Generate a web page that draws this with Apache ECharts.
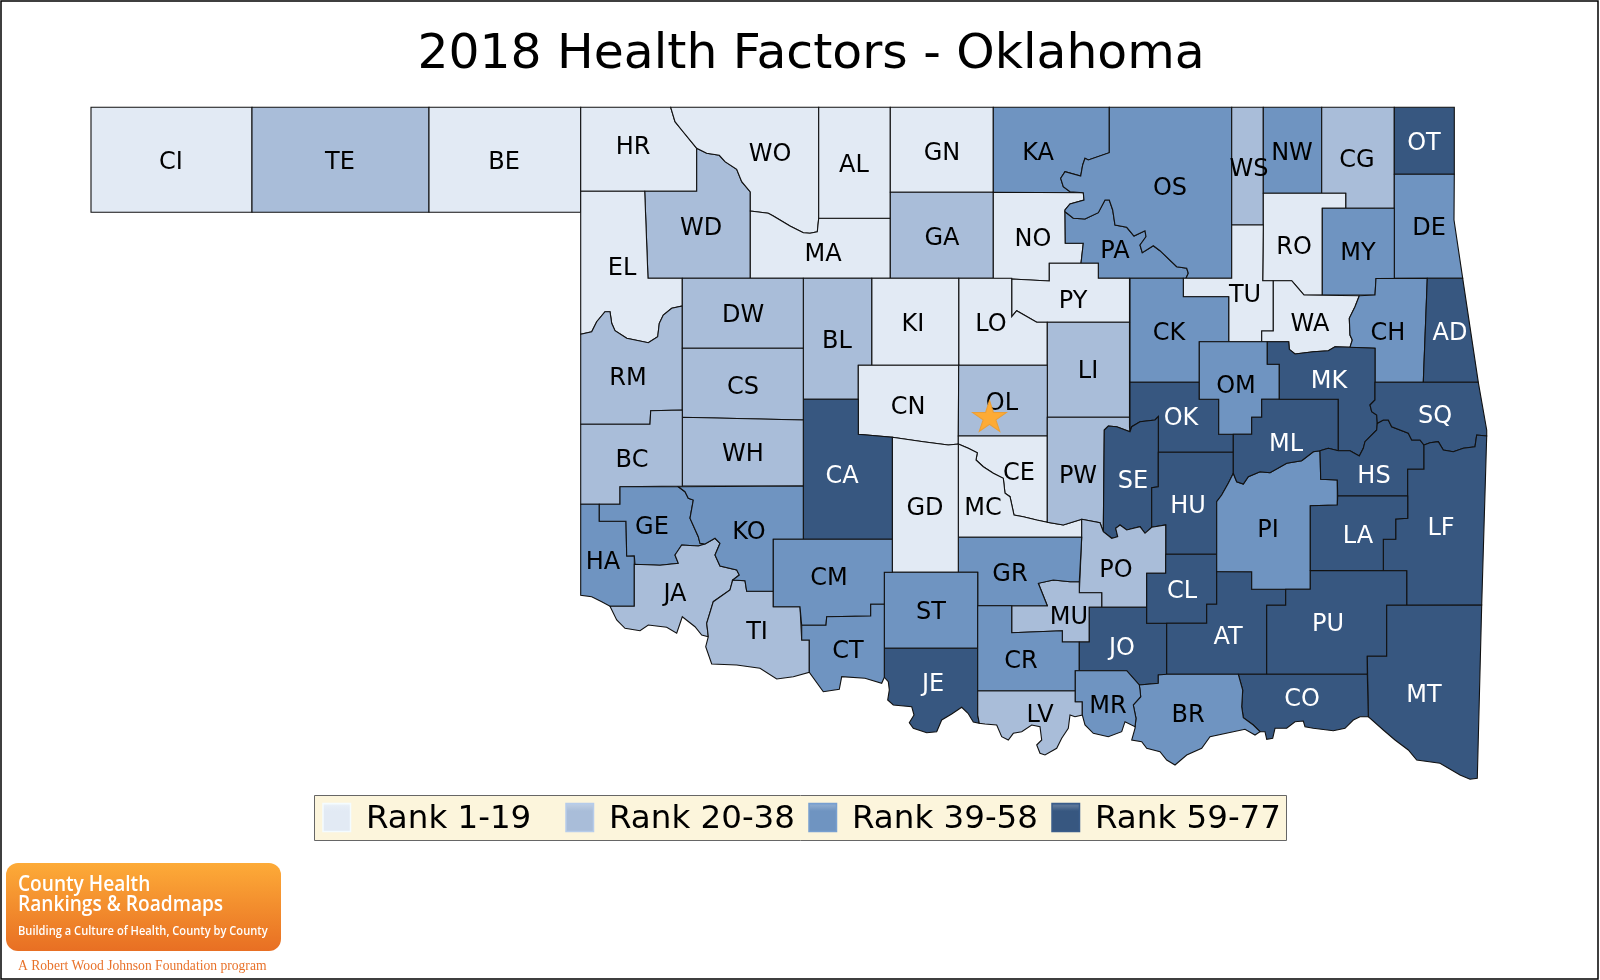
<!DOCTYPE html>
<html>
<head>
<meta charset="utf-8">
<title>2018 Health Factors - Oklahoma</title>
<script src="https://cdn.jsdelivr.net/npm/echarts@6/dist/echarts.min.js"></script>
<style>
html, body { margin: 0; padding: 0; background: #fff; }
#main { width: 1600px; height: 980px; }
</style>
</head>
<body>
<div id="main"></div>
<script>
// counties by rank group
var rank1Counties = ['CI','BE','HR','WO','AL','GN','NO','MA','EL','KI','LO','PY','CN','RO','TU','WA','GD','CE','MC'];
var rank2Counties = ['TE','WD','GA','CG','WS','DW','BL','CS','RM','BC','WH','LI','OL','PW','JA','TI','PO','MU','LV'];
var rank3Counties = ['KA','OS','PA','NW','MY','DE','CK','CH','OM','GE','HA','KO','CM','CT','ST','GR','CR','PI','MR','BR'];
var rank4Counties = ['OT','AD','MK','OK','SQ','ML','SE','HU','HS','CA','LA','LF','CL','AT','PU','JO','JE','CO','MT'];
var rankLabels = ['Rank 1-19','Rank 20-38','Rank 39-58','Rank 59-77'];
var rankColors = ['#e2eaf4','#a9bdd9','#6f94c1','#375780'];
var labelColors = ['#000','#000','#000','#fff'];
var capital = [989.5, 416];

// base map outlines, x,y pairs traced in page pixels
var outlines = {
CI:[91,107.3,252,107.3,252,212.3,91,212.3],
TE:[252,107.3,429,107.3,429,212.3,252,212.3],
BE:[429,107.3,580.7,107.3,580.7,212.3,429,212.3],
HR:[580.7,107.3,670.7,107.3,675,121.7,681.7,130,696.7,148.3,696.7,191.3,580.7,191.3],
WD:[644.7,191.3,696.7,191.3,696.7,148.3,706.7,153.3,719.3,155.3,725,161.7,736.7,169.3,741.7,181.7,750.3,192,750.3,278.3,648,278.3],
WO:[670.7,107.3,818.7,107.3,818.7,218.3,817.3,231.7,810,233.3,803.3,232.7,790,226,773.3,216,768.3,213.3,750.3,211,750.3,192,741.7,181.7,736.7,169.3,725,161.7,719.3,155.3,706.7,153.3,696.7,148.3,681.7,130,675,121.7],
MA:[750.3,211,768.3,213.3,773.3,216,790,226,803.3,232.7,810,233.3,817.3,231.7,818.7,218.3,890.3,218.3,890.3,278.3,750.3,278.3],
AL:[818.7,107.3,890.3,107.3,890.3,218.3,818.7,218.3],
GN:[890.3,107.3,993.3,107.3,993.3,192.3,890.3,192.3],
GA:[890.3,192.3,993.3,192.3,993.3,278.3,890.3,278.3],
KA:[993.3,107.3,1109.3,107.3,1109.3,152.7,1088.3,160,1085,158.3,1082.7,165,1080.7,176,1065,171.7,1060.7,178.3,1063.3,186.7,1070,191.7,1083.3,192.7,993.3,192.3],
NO:[993.3,192.3,1083.3,192.7,1084,200,1070,204,1065,210,1065.3,243.3,1083.3,243.3,1081,263.3,1049.3,263.3,1049.3,281,1011.7,279,993.3,278.3],
PA:[1065,211.7,1073.3,218.3,1085,219,1098.3,212.7,1105,200,1109.3,200,1112.7,210,1115,225,1126.7,227.3,1134,236,1145,230.7,1146,236.7,1140,245,1142.3,252.7,1153.3,245.7,1160,250.7,1176.7,266.7,1186.7,268.3,1188.3,273.3,1186,278.3,1098.3,278.3,1098.3,263.3,1081,263.3,1083.3,243.3,1065.3,243.3],
OS:[1109.3,107.3,1231.7,107.3,1231.7,278.3,1186,278.3,1188.3,273.3,1186.7,268.3,1176.7,266.7,1160,250.7,1153.3,245.7,1142.3,252.7,1140,245,1146,236.7,1145,230.7,1134,236,1126.7,227.3,1115,225,1112.7,210,1109.3,200,1105,200,1098.3,212.7,1085,219,1073.3,218.3,1065,211.7,1065,210,1070,204,1084,200,1083.3,192.7,1070,191.7,1063.3,186.7,1060.7,178.3,1065,171.7,1080.7,176,1082.7,165,1085,158.3,1088.3,160,1109.3,152.7],
WS:[1231.7,107.3,1263.3,107.3,1263.3,225,1231.7,225],
NW:[1263.3,107.3,1321.7,107.3,1321.7,193.3,1263.3,193.3],
CG:[1321.7,107.3,1394.3,107.3,1394.3,208.3,1345.7,208.3,1345.7,193.3,1321.7,193.3],
OT:[1394.3,107.3,1454.3,107.3,1454.3,174.3,1394.3,174.3],
DE:[1394.3,174.3,1454.3,174.3,1454,220,1462.7,278.3,1394.3,278.3],
RO:[1263.3,193.3,1345.7,193.3,1345.7,208.3,1322.3,208.3,1322.3,295,1304,295,1298.3,288.3,1291.7,280.7,1262.7,280.7,1263.3,225],
MY:[1322.3,208.3,1394.3,208.3,1394.3,278.3,1376,278.5,1375,295,1322.3,295],
TU:[1231.7,225,1263.3,225,1262.7,280.7,1273.3,280.7,1273.3,331,1261.7,331,1261.7,341.7,1228.7,341.7,1228.7,296.7,1183.3,296.7,1183.3,278.3,1231.7,278.3],
WA:[1273.3,280.7,1291.7,280.7,1298.3,288.3,1304,295,1359.3,295.7,1355,306.7,1349.3,318.3,1350,335,1352.3,340,1350,347.3,1335,346.7,1328.3,350.7,1313.3,351.7,1295,354,1289.3,349.3,1288.7,341.7,1261.7,341.7,1261.7,331,1273.3,331],
CH:[1359.3,295.7,1375,295,1376,278.5,1427.3,278.3,1423.3,382.3,1375,382.3,1375,348.3,1350,347.3,1352.3,340,1350,335,1349.3,318.3,1355,306.7],
AD:[1427.3,278.3,1462.7,278.3,1478.3,382.3,1423.3,382.3],
CK:[1130,278.3,1183.3,278.3,1183.3,296.7,1228.7,296.7,1228.7,341.7,1199.3,341.7,1199.3,382.3,1130,382.3],
PY:[1129.5,278.3,1129.5,322.3,1036.7,322.3,1016.7,310.7,1011.7,316.7,1011.7,279,1049.3,281,1049.3,263.3,1098.3,263.3,1098.3,278.3],
LO:[958.7,278.3,1011.7,278.3,1011.7,316.7,1016.7,310.7,1036.7,322.3,1047.3,322.3,1047.3,365.3,958.7,365.3],
LI:[1047.3,322.3,1129.5,322.3,1129.5,417.3,1047.3,417.3],
KI:[871.7,278.3,958.7,278.3,958.7,365.3,871.7,365.3],
BL:[803.3,278.3,871.7,278.3,871.7,365.3,858.3,365.3,858.3,399.3,803.3,399.3],
CN:[858.3,365.3,958.7,365.3,958.3,444,948.3,445,923.3,441.7,892.3,437.3,858.3,434.3],
OL:[958.7,365.3,1047.3,365.3,1047.3,436,958.3,436],
CE:[958.3,436,1047.3,436,1047.3,522.3,1036.7,520,1023.3,516.7,1014,515,1010,496.7,1005,493.3,1003.3,478.3,993.3,473.3,983.3,466.7,976,460,977.3,452.7,968.3,448.3,958.3,444],
MC:[958.3,444,968.3,448.3,977.3,452.7,976,460,983.3,466.7,993.3,473.3,1003.3,478.3,1005,493.3,1010,496.7,1014,515,1023.3,516.7,1036.7,520,1047.3,522.3,1063.3,525,1081.7,519.3,1081.7,537.3,958.3,537.3],
PW:[1047.3,417.3,1129.5,417.3,1129.5,426.7,1130,431.7,1116.7,426.7,1108.3,426,1104.3,430,1103.3,531.7,1100,522.7,1081.7,519.3,1063.3,525,1047.3,522.3],
OK:[1130,382.3,1199.3,382.3,1199.3,399.3,1218.7,399.3,1218.7,434.3,1233.3,434.3,1233.3,452.3,1158.3,452.3,1158.3,416.7,1155,420,1140,421.7,1131.7,426.7,1130,431.7],
SE:[1104.3,430,1108.3,426,1116.7,426.7,1130,431.7,1131.7,426.7,1140,421.7,1155,420,1158.3,416.7,1158.3,486.7,1151.7,487.7,1151.7,527.3,1145,533.3,1140,526.7,1126.7,530,1120,525,1115.7,528.3,1117.7,536.7,1111.7,538.3,1103.3,531.7],
HU:[1158.3,452.3,1233.3,452.3,1233.3,473.3,1228.3,483.3,1221.7,495,1216.7,501.7,1216.7,554.3,1165.7,554.3,1165.7,525,1151.7,527.3,1151.7,487.7,1158.3,486.7],
PO:[1081.7,519.3,1100,522.7,1103.3,531.7,1111.7,538.3,1117.7,536.7,1115.7,528.3,1120,525,1126.7,530,1140,526.7,1145,533.3,1151.7,527.3,1165.7,525,1165.7,573.3,1146.7,573.3,1146.7,607.3,1101.7,607.3,1101.7,592.7,1079.3,592.7,1081.7,537.3],
MU:[1038.3,583.3,1053.3,580,1070,581.7,1079.3,581.7,1079.3,592.7,1101.7,592.7,1101.7,607.3,1089.3,607.3,1089.3,642,1062.3,642,1062.3,630.7,1011.7,632.7,1011.7,605.7,1047.3,605.7],
GR:[958.3,537.3,1081.7,537.3,1079.3,581.7,1070,581.7,1053.3,580,1038.3,583.3,1047.3,605.7,977.7,605.7,977.7,572.3,958.3,572.3],
GD:[892.3,437.3,923.3,441.7,948.3,445,958.3,444,958.3,572.3,892.3,572.3],
CA:[803.3,399.3,858.3,399.3,858.3,434.3,892.3,437.3,892.3,539.3,803.3,539.3],
ST:[884.3,572.3,977.7,572.3,977.7,648.3,884.3,648.3],
JE:[884.3,648.3,977.7,648.3,977.7,715,979.3,723.3,973.3,722,968,713.3,961.7,707.3,951.7,714,941.7,720,936.7,731.7,926.7,732.7,913.3,728.3,909.3,722.7,914,715,911.7,706.7,893.3,705,887.7,700,889.3,690,888.3,681.7,884.3,677.3],
LV:[977.7,690.7,1075.3,690.7,1075.3,701.7,1082.3,701.7,1082.3,715,1075,716.7,1070,715,1068.3,728.3,1061.7,738.3,1056.7,748.3,1045,755,1040,753.3,1036.7,745,1041.7,740,1040,726.7,1031.7,725,1021.7,731.7,1013.3,733.3,1008.3,740,1001.7,736.7,996.7,725,985,724,979.3,723.3,977.7,715],
CR:[977.7,605.7,1011.7,605.7,1011.7,632.7,1062.3,630.7,1062.3,642,1079.3,642,1079.3,670.7,1075.3,670.7,1075.3,690.7,977.7,690.7],
JO:[1089.3,607.3,1146.7,607.3,1146.7,623.3,1166.7,623.3,1166.7,674.3,1158.3,675,1158.3,683.3,1139.3,685,1126.7,670.7,1079.3,670.7,1079.3,642,1089.3,642],
CL:[1146.7,573.3,1165.7,573.3,1165.7,554.3,1216.7,554.3,1216.7,604.3,1206.7,604.3,1206.7,623.3,1146.7,623.3],
AT:[1166.7,623.3,1206.7,623.3,1206.7,604.3,1216.7,604.3,1216.7,571.5,1251.7,571.7,1251.7,589.3,1285.7,589.3,1285.7,605.3,1266.7,605.3,1266.7,674.3,1166.7,674.3],
PI:[1216.7,501.7,1221.7,495,1228.3,483.3,1233.3,473.3,1236.7,481.7,1243.3,484,1248.3,476.7,1260,471.7,1270,472.7,1286.7,463.3,1301.7,460.7,1313.3,451.7,1320,450.7,1320.7,479.3,1337.3,480,1337.3,505,1310.3,505.7,1310.3,589.3,1251.7,589.3,1251.7,571.7,1216.7,571.5],
OM:[1199.3,341.7,1267.3,341.7,1267.3,364.3,1279.3,364.3,1279.3,399.3,1261.7,399.3,1261.7,417.3,1251.7,417.3,1251.7,434.3,1218.7,434.3,1218.7,399.3,1199.3,399.3],
ML:[1251.7,434.3,1251.7,417.3,1261.7,417.3,1261.7,399.3,1338.3,399.3,1338.3,450.7,1328.3,448.3,1320,450.7,1313.3,451.7,1301.7,460.7,1286.7,463.3,1270,472.7,1260,471.7,1248.3,476.7,1243.3,484,1236.7,481.7,1233.3,473.3,1233.3,434.3],
MK:[1267.3,341.7,1288.7,341.7,1289.3,349.3,1295,354,1313.3,351.7,1328.3,350.7,1335,346.7,1350,347.3,1375,348.3,1375,400,1370,405,1371.7,411.7,1376.7,415,1377.3,423.3,1376.7,430,1365,441.7,1363.3,448.3,1359.3,456,1350,450.7,1338.3,450.7,1338.3,399.3,1279.3,399.3,1279.3,364.3,1267.3,364.3],
HS:[1320,450.7,1328.3,448.3,1338.3,450.7,1350,450.7,1359.3,456,1363.3,448.3,1365,441.7,1376.7,430,1377.3,423.3,1383.3,420,1388.3,420,1391.7,426.7,1408.3,433.3,1411.7,440,1420,440,1424,445,1424,469.3,1407.7,469.3,1407.7,496,1337.7,496,1337.3,480,1320.7,479.3],
SQ:[1375,382.3,1478.3,382.3,1486.7,430,1486.7,436,1476.7,435,1475,446.7,1463.3,448.3,1453.3,451.7,1443.3,450,1438.3,441.7,1430,442.7,1424,445,1420,440,1411.7,440,1408.3,433.3,1391.7,426.7,1388.3,420,1383.3,420,1377.3,423.3,1376.7,415,1371.7,411.7,1370,405,1375,400],
LF:[1424,445,1430,442.7,1438.3,441.7,1443.3,450,1453.3,451.7,1463.3,448.3,1475,446.7,1476.7,435,1486.7,436,1481.7,605,1406.7,605.3,1406.7,570.7,1383.3,570.7,1383.3,539.3,1395.7,539.3,1395.7,519,1407.7,518.3,1407.7,469.3,1424,469.3],
LA:[1337.7,496,1407.7,496,1407.7,518.3,1395.7,519,1395.7,539.3,1383.3,539.3,1383.3,570.7,1310.3,570.5,1310.3,505.7,1337.3,505],
PU:[1310.3,570.5,1406.7,570.7,1406.7,605.3,1386.7,605.3,1386.7,656.3,1367.3,656.3,1367.3,674.3,1266.7,674.3,1266.7,605.3,1285.7,605.3,1285.7,589.3,1310.3,589.3],
MT:[1386.7,605.3,1481.7,605,1477.3,778.3,1470,779.3,1460,775,1440,763.3,1416.7,760,1408.3,750,1395,740,1383.3,730,1368.3,716.7,1367.3,656.3,1386.7,656.3],
CO:[1238.3,674.3,1367.3,674.3,1368.3,716.7,1360,716.7,1353.3,720,1345,728.3,1333.3,730.7,1313.3,728.3,1305,726.7,1303.3,721,1295,721.7,1286.7,728.3,1275,728.3,1272.7,738.3,1266.7,739.3,1265,731.7,1260,731.7,1253.3,725,1243.3,717.7,1241.7,706.7,1242.7,690],
BR:[1158.3,675,1166.7,674.3,1238.3,674.3,1242.7,690,1241.7,706.7,1243.3,717.7,1253.3,725,1260,731.7,1255,735,1245,729.3,1233.3,731.7,1210,736.7,1201.7,748.3,1186.7,755,1175,765,1166.7,760,1160,751.7,1146.7,748.3,1141.7,741.7,1131.7,740,1135,728.3,1136,718.3,1133.3,705,1140.7,696.7,1140,690,1139.3,685,1158.3,683.3],
MR:[1075.3,670.7,1126.7,670.7,1139.3,685,1140,690,1140.7,696.7,1133.3,705,1136,718.3,1135,726.7,1125,721.7,1121.7,731.7,1108.3,736.7,1093.3,733.3,1085,725,1082.3,715,1082.3,701.7,1075.3,701.7],
EL:[580.7,191.3,644.7,191.3,648,278.3,682.3,278.3,682.3,306,671.7,308.3,663.3,315,659.3,323.3,657.7,336.7,648.3,342.7,626.7,338.3,615,330.7,611.7,323.3,610,311.7,605,311.7,596.7,321.7,591.7,331.7,580.7,334.3],
RM:[580.7,334.3,591.7,331.7,596.7,321.7,605,311.7,610,311.7,611.7,323.3,615,330.7,626.7,338.3,648.3,342.7,657.7,336.7,659.3,323.3,663.3,315,671.7,308.3,682.3,306,682.3,410,650.7,410.7,650,424.3,580.7,424.3],
DW:[682.3,278.3,803.3,278.3,803.3,348.3,682.3,348.3],
CS:[682.3,348.3,803.3,348.3,803.3,420,682.3,417.3],
WH:[682.3,417.3,803.3,420,803.3,486,682.3,486],
BC:[580.7,424.3,650,424.3,650.7,410.7,682.3,410,682.3,486,620,486.7,620,504.3,580.7,504.3],
HA:[580.7,504.3,599.3,504.3,599.3,521.3,626,521.3,626.7,556,634.3,555.7,634.3,606.3,610,606.3,601.7,601.7,591.7,596.7,580.7,595.3],
GE:[620,486.7,678.3,486.7,685,491.7,688.3,498.3,693.3,500,690,518.3,698.3,536.7,700,543.3,705,544,698.3,546,681.7,545,675,555,678.3,563.3,660,565.3,635,564.3,634.3,555.7,626.7,556,626,521.3,599.3,521.3,599.3,504.3,620,504.3],
JA:[634.3,606.3,634.3,564.3,660,565.3,678.3,563.3,675,555,681.7,545,698.3,546,705,544,715,538.3,720,543.3,715,555,720,566,736.7,570,739.3,575,732.7,580,730,590,713.3,601.7,706.7,623.3,708.3,636.7,701.7,635,695,626.7,682.3,616.7,676.7,633.3,666.7,627.3,648.3,625,640,630.7,625,628.3,616.7,620,610,606.3],
TI:[732.7,580,745,580.7,746.7,591.3,773.3,591.3,773.3,606.7,800,606.7,801.7,640,809.3,640,809.3,672.3,793.3,676.7,776.7,679,760,668.3,736.7,665,711.7,664,705.7,646.7,708.3,636.7,706.7,623.3,713.3,601.7,730,590],
KO:[678.3,486.7,803.3,486,803.3,539.3,773.3,539.3,773.3,591.3,746.7,591.3,745,580.7,732.7,580,739.3,575,736.7,570,720,566,715,555,720,543.3,715,538.3,705,544,700,543.3,698.3,536.7,690,518.3,693.3,500,688.3,498.3,685,491.7],
CM:[773.3,539.3,892.3,539.3,892.3,572.3,884.3,572.3,884.3,604.3,870.7,604.3,870.7,616,826.7,616.7,826,625.3,801.7,625.3,800,606.7,773.3,606.7],
CT:[801.7,625.3,826,625.3,826.7,616.7,870.7,616,870.7,604.3,884.3,604.3,884.3,677.3,881.7,683.3,865,678.3,841.7,676.7,839.3,689.3,823.3,691.7,809.3,672.3,809.3,640,801.7,640]
};

// where each county's abbreviation sits
var labelSpots = {
CI:[171,160],TE:[340,160],BE:[504,160],HR:[633,145],WO:[770,152],AL:[854,163],GN:[942,151],KA:[1038,151],OS:[1170,186],WS:[1249,167],
NW:[1292,151],CG:[1357,158],OT:[1424,141],DE:[1429,226],WD:[701,226],EL:[622,266],MA:[823,252],GA:[942,236],NO:[1033,237],PA:[1115,249],
RO:[1294,245],MY:[1358,251],PY:[1073,299],TU:[1245,293],DW:[743,313],KI:[913,322],LO:[991,322],CK:[1169,331],WA:[1310,322],CH:[1388,331],
AD:[1450,331],BL:[837,339],LI:[1088,369],OM:[1236,384],MK:[1329,379],RM:[628,376],CS:[743,385],CN:[908,405],OL:[1002,401],OK:[1181,416],
SQ:[1435,414],ML:[1286,442],WH:[743,452],BC:[632,458],CE:[1019,471],PW:[1078,474],SE:[1133,479],HS:[1374,474],CA:[842,474],HU:[1188,504],
MC:[983,506],GD:[925,506],LF:[1441,526],GE:[652,525],KO:[749,530],PI:[1268,528],LA:[1358,534],HA:[603,560],PO:[1116,568],GR:[1010,572],
CM:[829,576],CL:[1182,589],JA:[675,592],ST:[931,610],MU:[1069,615],PU:[1328,622],TI:[757,630],AT:[1228,635],JO:[1122,646],CT:[848,649],
CR:[1021,659],JE:[933,682],MT:[1424,693],CO:[1302,697],MR:[1108,704],LV:[1040,713],BR:[1188,713]
};

var fontName = '"DejaVu Sans", Verdana, sans-serif';
var logoFont = '"Open Sans", sans-serif';

// build the geojson and work out its extent
var features = [], minX = 1e9, minY = 1e9, maxX = -1e9, maxY = -1e9;
Object.keys(outlines).forEach(function (name) {
	var flat = outlines[name], ring = [];
	for (var i = 0; i < flat.length; i += 2) {
		ring.push([flat[i], flat[i + 1]]);
		minX = Math.min(minX, flat[i]); maxX = Math.max(maxX, flat[i]);
		minY = Math.min(minY, flat[i + 1]); maxY = Math.max(maxY, flat[i + 1]);
	}
	ring.push(ring[0]);
	features.push({
		type: 'Feature',
		properties: { name: name, cp: labelSpots[name] },
		geometry: { type: 'Polygon', coordinates: [ring] }
	});
});
echarts.registerMap('oklahoma', { type: 'FeatureCollection', features: features });

// outlines are already page pixels, so no real projection
var flatProjection = {
	project: function (p) { return p; },
	unproject: function (p) { return p; }
};
var mapBox = { left: minX, top: minY, width: maxX - minX, height: maxY - minY };

var mapData = [];
[rank1Counties, rank2Counties, rank3Counties, rank4Counties].forEach(function (list, r) {
	list.forEach(function (name) {
		mapData.push({ name: name, value: r + 1, label: { color: labelColors[r] } });
	});
});

// legend box and logo
var graphics = [
	{ type: 'rect', silent: true, shape: { x: 1, y: 1, width: 1597, height: 978 }, style: { fill: 'none', stroke: '#000', lineWidth: 1.5 } },
	{ type: 'rect', silent: true, shape: { x: 314.5, y: 795.5, width: 972, height: 45 }, style: { fill: '#fcf5dc', stroke: '#666', lineWidth: 1 } }
];
rankLabels.forEach(function (text, i) {
	var x = 323 + i * 243;
	graphics.push({
		type: 'rect', silent: true,
		shape: { x: x, y: 803.5, width: 27.5, height: 28 },
		style: {
			fill: new echarts.graphic.LinearGradient(0, 0, 0, 1, [
				{ offset: 0, color: echarts.color.lift(rankColors[i], -0.1) },
				{ offset: 0.1, color: echarts.color.lift(rankColors[i], 0.2) },
				{ offset: 0.28, color: rankColors[i] },
				{ offset: 1, color: rankColors[i] }
			]),
			stroke: echarts.color.lift(rankColors[i], -0.08),
			lineWidth: 1.5
		}
	});
	graphics.push({
		type: 'text', silent: true,
		style: { x: x + 43, y: 820, text: text, fill: '#000', font: '32.5px ' + fontName, textVerticalAlign: 'middle' }
	});
});
graphics.push(
	{
		type: 'rect', silent: true,
		shape: { x: 6, y: 863, width: 275, height: 88, r: 12 },
		style: {
			fill: new echarts.graphic.LinearGradient(0, 0, 0, 1, [
				{ offset: 0, color: '#fdab38' },
				{ offset: 1, color: '#e86f23' }
			])
		}
	},
	// the logo lettering is condensed, squeeze the open sans to fit
	{ type: 'text', silent: true, x: 18, y: 885, scaleX: 0.91, style: { text: 'County Health', fill: '#fff', font: '600 21px ' + logoFont, textVerticalAlign: 'middle' } },
	{ type: 'text', silent: true, x: 18, y: 905, scaleX: 0.91, style: { text: 'Rankings & Roadmaps', fill: '#fff', font: '600 21px ' + logoFont, textVerticalAlign: 'middle' } },
	{ type: 'text', silent: true, x: 18, y: 931, scaleX: 0.89, style: { text: 'Building a Culture of Health, County by County', fill: '#fff', font: '600 12.5px ' + logoFont, textVerticalAlign: 'middle' } },
	{ type: 'text', silent: true, x: 18, y: 966, style: { text: 'A Robert Wood Johnson Foundation program', fill: '#e8722a', font: '13.6px "Liberation Serif", serif', textVerticalAlign: 'middle' } }
);

var myChart = echarts.init(document.getElementById('main'), null, { renderer: 'canvas' });
var option = {
	animation: false,
	backgroundColor: '#fff',
	title: {
		text: '2018 Health Factors - Oklahoma',
		left: 806,
		top: 26,
		textAlign: 'center',
		textStyle: { fontFamily: fontName, fontSize: 48.8, fontWeight: 'normal', color: '#000' }
	},
	visualMap: {
		show: false,
		type: 'piecewise',
		seriesIndex: 0,
		pieces: rankLabels.map(function (text, i) {
			return { value: i + 1, label: text, color: rankColors[i] };
		})
	},
	// geo only carries the capital star, the map series draws the counties
	geo: {
		map: 'oklahoma',
		projection: flatProjection,
		left: mapBox.left, top: mapBox.top, width: mapBox.width, height: mapBox.height,
		silent: true,
		itemStyle: { areaColor: 'transparent', borderWidth: 0 },
		label: { show: false }
	},
	series: [
		{
			type: 'map',
			map: 'oklahoma',
			projection: flatProjection,
			left: mapBox.left, top: mapBox.top, width: mapBox.width, height: mapBox.height,
			silent: true,
			selectedMode: false,
			z: 3,
			itemStyle: { borderColor: '#111', borderWidth: 1.1 },
			label: { show: true, fontFamily: fontName, fontSize: 24, align: 'center', verticalAlign: 'middle', offset: [0, 2.5] },
			data: mapData
		},
		{
			type: 'scatter',
			coordinateSystem: 'geo',
			silent: true,
			z: 5,
			symbol: 'path://M50 0 L61 35 L98 35 L68 57 L79 91 L50 70 L21 91 L32 57 L2 35 L39 35 Z',
			symbolSize: [34, 31],
			itemStyle: { color: '#fdab36', borderColor: '#eb9f38', borderWidth: 1, opacity: 1 },
			data: [capital]
		}
	],
	graphic: { elements: graphics }
};
myChart.setOption(option);
</script>
</body>
</html>
